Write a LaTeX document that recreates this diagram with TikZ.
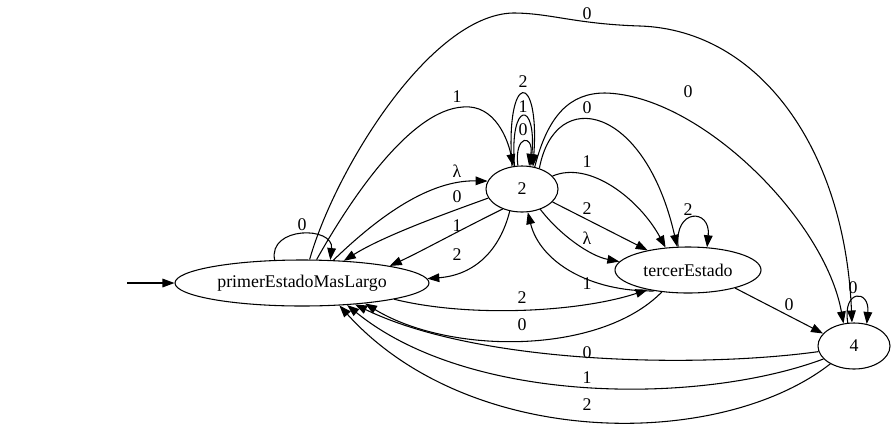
\documentclass[tikz,border=0pt]{standalone}
\usepackage{fontspec}
\setmainfont{Liberation Serif}
\usetikzlibrary{shapes.geometric,arrows.meta}

\tikzset{
  state/.style={ellipse, draw, line width=0.8pt, inner sep=0pt,
    font=\fontsize{13.4}{16}\selectfont},
  edge/.style={draw, line width=0.8pt, -{Triangle[length=9pt,width=6.5pt]}},
  lbl/.style={inner sep=0pt, font=\fontsize{13.4}{16}\selectfont}
}

\begin{document}
\begin{tikzpicture}[x=0.75pt, y=-0.75pt]
\path[use as bounding box] (0,0) rectangle (896,426);

% states
\node[state, minimum width=190.5pt, minimum height=34.5pt] (P) at (302,283) {primerEstadoMasLargo};
\node[state, minimum width=54pt, minimum height=34.5pt] (S) at (522,189) {2};
\node[state, minimum width=109.5pt, minimum height=34.5pt] (T) at (688,270) {tercerEstado};
\node[state, minimum width=54pt, minimum height=34.5pt] (F) at (854,346) {4};

% initial arrow
\coordinate (init) at (127,283);
\draw[edge] (init) -- (P);

% transitions leaving primerEstadoMasLargo
\draw[edge] (P.140) .. controls (268,226) and (334,226) .. (P.39);
\node[lbl] (lP0) at (302,225) {0};
\draw[edge] (P.36) .. controls (380,215) and (430,180) .. (S.167);
\node[lbl] (lPS) at (457,171) {λ};
\draw[edge] (P.58) .. controls (350,200) and (410,110) .. (463,107)
  .. controls (495,104) and (508,140) .. (S.111);
\node[lbl] (lPS1) at (457,97) {1};
\draw[edge] (P.72) .. controls (335,170) and (430,15) .. (513,13)
  .. controls (550,13) and (575,24) .. (640,26)
  .. controls (760,30) and (845,150) .. (F.95);
\node[lbl] (lPF) at (587,14) {0};
\draw[edge] (P.-10.6) .. controls (470,318) and (580,312) .. (T.206);
\node[lbl] (lPT) at (522,298) {2};

% transitions leaving 2
\draw[edge] (S.114) .. controls (505,70) and (540,70) .. (S.64);
\draw[edge] (S.108) .. controls (509,100) and (537,100) .. (S.69);
\draw[edge] (S.100) .. controls (514,134) and (534,134) .. (S.73);
\node[lbl] (lS2) at (523,82) {2};
\node[lbl] (lS1) at (523,107) {1};
\node[lbl] (lS0) at (523,130) {0};
\draw[edge] (S.195) .. controls (450,212) and (385,235) .. (P.28.5);
\node[lbl] (lSP0) at (457,197) {0};
\draw[edge] (S.226) .. controls (460,230) and (420,252) .. (P.11);
\node[lbl] (lSP1) at (457,226) {1};
\draw[edge] (S.241) .. controls (500,250) and (475,275) .. (P.2);
\node[lbl] (lSP2) at (457,255) {2};
\draw[edge] (S.23) .. controls (590,160) and (640,200) .. (T.135);
\node[lbl] (lST1) at (587,162) {1};
\draw[edge] (S.-23) -- (T.154);
\node[lbl] (lST2) at (587,209) {2};
\draw[edge] (S.-48) .. controls (560,235) and (590,256) .. (T.173);
\node[lbl] (lSTl) at (587,238) {λ};
\draw[edge] (S.50) .. controls (555,85) and (645,105) .. (T.115);
\node[lbl] (lST0) at (587,108) {0};
\draw[edge] (S.60) .. controls (548,115) and (570,93) .. (605,93)
  .. controls (700,95) and (825,220) .. (F.115.6);
\node[lbl] (lSF) at (688,92) {0};

% transitions leaving tercerEstado
\draw[edge] (T.113.5) .. controls (674,208) and (711,208) .. (T.50.4);
\node[lbl] (lT2) at (688,210) {2};
\draw[edge] (T.212) .. controls (590,292) and (540,262) .. (S.-76);
\node[lbl] (lTS) at (587,284) {1};
\draw[edge] (T.220) .. controls (600,355) and (450,355) .. (P.-18);
\node[lbl] (lTP) at (522,325) {0};
\draw[edge] (T.-21) -- (F.158);
\node[lbl] (lTF) at (789,305) {0};

% transitions leaving 4
\draw[edge] (F.105) .. controls (842,289) and (870,289) .. (F.60);
\node[lbl] (lF0) at (853,288) {0};
\draw[edge] (F.189.5) .. controls (700,368) and (480,365) .. (P.-22);
\node[lbl] (lFP0) at (587,353) {0};
\draw[edge] (F.203) .. controls (700,405) and (470,405) .. (P.-26);
\node[lbl] (lFP1) at (587,378) {1};
\draw[edge] (F.217) .. controls (720,450) and (470,450) .. (P.-31);
\node[lbl] (lFP2) at (587,405) {2};
\end{tikzpicture}
\end{document}
